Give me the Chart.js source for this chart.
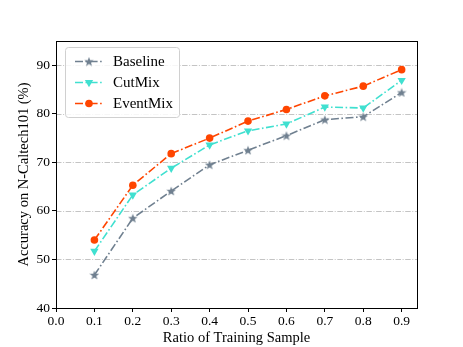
<!DOCTYPE html>
<html>
<head>
<meta charset="utf-8">
<script src="https://cdn.jsdelivr.net/npm/chart.js@4/dist/chart.umd.min.js"></script>
<style>
html,body{margin:0;padding:0;background:#fff;}
#wrap{width:463px;height:347px;}
</style>
</head>
<body>
<div id="wrap"><canvas id="c" width="463" height="347"></canvas></div>
<script>
const ratios = [0.1, 0.2, 0.3, 0.4, 0.5, 0.6, 0.7, 0.8, 0.9];
const baseline = [46.8, 58.5, 64.1, 69.5, 72.5, 75.5, 78.8, 79.4, 84.4];
const cutmix   = [51.7, 63.3, 68.8, 73.6, 76.5, 77.9, 81.4, 81.2, 86.9];
const eventmix = [54.0, 65.3, 71.8, 75.0, 78.5, 80.9, 83.7, 85.7, 89.1];
const xTicks = [0.0, 0.1, 0.2, 0.3, 0.4, 0.5, 0.6, 0.7, 0.8, 0.9];
const yTicks = [40, 50, 60, 70, 80, 90];
const seriesNames = ['Baseline', 'CutMix', 'EventMix'];

const FONT = "'Liberation Serif', 'Times New Roman', serif";
const DASH = [8, 2.5, 1.6, 2.5];

function makeStar(color, size) {
  const c = document.createElement('canvas');
  c.width = size; c.height = size;
  const g = c.getContext('2d');
  const cx = size / 2, cy = size / 2 + 0.4, R = size / 2, r = R * 0.42;
  g.beginPath();
  for (let i = 0; i < 10; i++) {
    const a = -Math.PI / 2 + i * Math.PI / 5;
    const rad = i % 2 === 0 ? R : r;
    const px = cx + rad * Math.cos(a), py = cy + rad * Math.sin(a);
    if (i === 0) g.moveTo(px, py); else g.lineTo(px, py);
  }
  g.closePath();
  g.fillStyle = color;
  g.fill();
  return c;
}

const colors = ['#708090', '#40E0D0', '#FF4500'];
const starImg = makeStar(colors[0], 10);

function pts(arr) { return ratios.map((x, i) => ({x: x, y: arr[i]})); }

const datasets = [
  {label: seriesNames[0], data: pts(baseline), borderColor: colors[0], backgroundColor: colors[0],
   pointStyle: starImg, pointRadius: 5, borderWidth: 1.6, borderDash: DASH, tension: 0, pointBorderWidth: 0},
  {label: seriesNames[1], data: pts(cutmix), borderColor: colors[1], backgroundColor: colors[1],
   pointStyle: 'triangle', rotation: 180, pointRadius: 4.8, borderWidth: 1.6, borderDash: DASH, tension: 0, pointBorderWidth: 0},
  {label: seriesNames[2], data: pts(eventmix), borderColor: colors[2], backgroundColor: colors[2],
   pointStyle: 'circle', pointRadius: 3.8, borderWidth: 1.6, borderDash: DASH, tension: 0, pointBorderWidth: 0}
];

const framePlugin = {
  id: 'frame',
  beforeDatasetsDraw(chart) {
    const {ctx, chartArea: a, scales: {y}} = chart;
    ctx.save();
    ctx.strokeStyle = '#bdbdbd';
    ctx.lineWidth = 0.9;
    ctx.setLineDash([5.5, 1.6, 1, 1.6]);
    yTicks.forEach(v => {
      if (v === yTicks[0]) return;
      const py = Math.round(y.getPixelForValue(v)) + 0.5;
      ctx.beginPath(); ctx.moveTo(a.left, py); ctx.lineTo(a.right, py); ctx.stroke();
    });
    ctx.restore();
  },
  afterDraw(chart) {
    const {ctx, chartArea: a} = chart;
    ctx.save();
    ctx.strokeStyle = '#000';
    ctx.lineWidth = 1;
    ctx.setLineDash([]);
    ctx.strokeRect(Math.round(a.left) + 0.5, Math.round(a.top) + 0.5, Math.round(a.right - a.left), Math.round(a.bottom - a.top));
    // legend
    const bx = a.left + 9, by = a.top + 6, bw = 114, bh = 70;
    ctx.fillStyle = 'rgba(255,255,255,0.85)';
    ctx.strokeStyle = '#d0d0d0';
    ctx.lineWidth = 1;
    ctx.beginPath();
    ctx.roundRect(bx + 0.5, by + 0.5, bw, bh, 3);
    ctx.fill(); ctx.stroke();
    ctx.font = '15px ' + FONT;
    ctx.textBaseline = 'middle';
    ctx.textAlign = 'left';
    chart.data.datasets.forEach((ds, i) => {
      const ly = by + 14.5 + i * 21;
      const x0 = bx + 10, x1 = bx + 38, xm = (x0 + x1) / 2;
      ctx.strokeStyle = ds.borderColor;
      ctx.lineWidth = 1.6;
      ctx.setLineDash(DASH);
      ctx.beginPath(); ctx.moveTo(x0, ly); ctx.lineTo(x1, ly); ctx.stroke();
      ctx.setLineDash([]);
      ctx.fillStyle = ds.backgroundColor;
      if (ds.pointStyle === 'circle') {
        ctx.beginPath(); ctx.arc(xm, ly, ds.pointRadius, 0, Math.PI * 2); ctx.fill();
      } else if (ds.pointStyle === 'triangle') {
        const r = ds.pointRadius;
        ctx.beginPath();
        ctx.moveTo(xm, ly + r);
        ctx.lineTo(xm - r * 0.866, ly - r * 0.5);
        ctx.lineTo(xm + r * 0.866, ly - r * 0.5);
        ctx.closePath(); ctx.fill();
      } else {
        const img = ds.pointStyle;
        ctx.drawImage(img, xm - img.width / 2, ly - img.height / 2);
      }
      ctx.fillStyle = '#000';
      ctx.fillText(ds.label, bx + 48, ly + 1);
    });
    ctx.restore();
  }
};

new Chart(document.getElementById('c'), {
  type: 'line',
  data: {datasets: datasets},
  plugins: [framePlugin],
  options: {
    responsive: false,
    animation: false,
    devicePixelRatio: 1,
    layout: {padding: {left: 0, right: 46, top: 41, bottom: 0}},
    plugins: {legend: {display: false}, tooltip: {enabled: false}},
    scales: {
      x: {
        type: 'linear', min: 0, max: 0.94,
        afterBuildTicks: s => { s.ticks = xTicks.map(v => ({value: v})); },
        afterFit: s => { s.height = 39; },
        grid: {display: true, drawOnChartArea: false, drawTicks: true, tickLength: 4, tickColor: '#000', color: '#000'},
        border: {display: false},
        ticks: {color: '#000', font: {family: FONT, size: 13.5}, padding: 1, maxRotation: 0,
                callback: v => Number(v).toFixed(1)},
        title: {display: true, text: 'Ratio of Training Sample', color: '#000', font: {family: FONT, size: 14.5}, padding: {top: 0, bottom: 0}}
      },
      y: {
        type: 'linear', min: 40, max: 95,
        afterBuildTicks: s => { s.ticks = yTicks.map(v => ({value: v})); },
        afterFit: s => { s.width = 56; },
        grid: {display: true, drawOnChartArea: false, drawTicks: true, tickLength: 4, tickColor: '#000', color: '#000'},
        border: {display: false},
        ticks: {color: '#000', font: {family: FONT, size: 13.5}, padding: 2,
                callback: v => String(v)},
        title: {display: true, text: 'Accuracy on N-Caltech101 (%)', color: '#000', font: {family: FONT, size: 14.5}, padding: {top: 15, bottom: 0}}
      }
    }
  }
});
</script>
</body>
</html>
